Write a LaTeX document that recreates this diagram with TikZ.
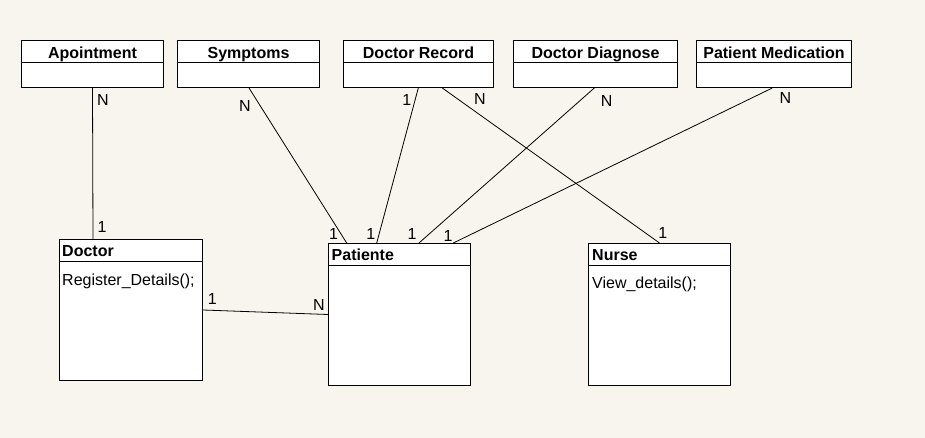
\documentclass[tikz,border=0pt]{standalone}
\usepackage{fontspec}
\setmainfont{Liberation Sans}
\usetikzlibrary{calc}
\definecolor{bgc}{RGB}{248,245,238}
\tikzset{
  cls/.style={draw=black, fill=white, line width=1pt, rectangle, inner sep=0pt, anchor=north west},
  ttl/.style={font=\fontsize{16pt}{19pt}\selectfont\bfseries, inner sep=0pt},
  bod/.style={font=\fontsize{16pt}{19pt}\selectfont, inner sep=0pt, anchor=base west},
  lbl/.style={font=\fontsize{16pt}{19pt}\selectfont, inner sep=0pt},
  con/.style={draw=black, line width=0.8pt},
  divl/.style={draw=black, line width=1pt}
}
\begin{document}
\begin{tikzpicture}[x=1pt,y=-1pt]
\fill[bgc] (0,0) rectangle (925,438);
\useasboundingbox (0,0) rectangle (925,438);

% top classes
\node[cls, minimum width=142pt, minimum height=47pt] (apt) at (21,40) {};
\node[cls, minimum width=142pt, minimum height=47pt] (sym) at (177,40) {};
\node[cls, minimum width=150pt, minimum height=47pt] (dr) at (343,40) {};
\node[cls, minimum width=164pt, minimum height=47pt] (dd) at (513,40) {};
\node[cls, minimum width=155pt, minimum height=47pt] (pm) at (696,40) {};
\foreach \n in {apt,sym,dr,dd,pm}{
  \draw[divl] ([yshift=-23pt]\n.north west) -- ([yshift=-23pt]\n.north east);
}
\node[ttl, anchor=base] (aptT) at ([yshift=-19pt]apt.north) {Apointment};
\node[ttl, anchor=base] (symT) at ([yshift=-19pt]sym.north) {Symptoms};
\node[ttl, anchor=base] (drT) at ([yshift=-19pt]dr.north) {Doctor Record};
\node[ttl, anchor=base] (ddT) at ([yshift=-19pt]dd.north) {Doctor Diagnose};
\node[ttl, anchor=base] (pmT) at ([yshift=-19pt]pm.north) {Patient Medication};

% bottom classes
\node[cls, minimum width=143pt, minimum height=141pt] (doc) at (59,239) {};
\node[cls, minimum width=142pt, minimum height=142pt] (pat) at (328,243) {};
\node[cls, minimum width=142pt, minimum height=142pt] (nur) at (588,243) {};
\foreach \n in {doc,pat,nur}{
  \draw[divl] ([yshift=-22pt]\n.north west) -- ([yshift=-22pt]\n.north east);
}
\node[ttl, anchor=base west] (docT) at ([xshift=3pt,yshift=-17.5pt]doc.north west) {Doctor};
\node[ttl, anchor=base west] (patT) at ([xshift=3.5pt,yshift=-17pt]pat.north west) {Patiente};
\node[ttl, anchor=base west] (nurT) at ([xshift=4pt,yshift=-17pt]nur.north west) {Nurse};
\node[bod] (docB) at ([xshift=3pt,yshift=-46pt]doc.north west) {Register\_Details();};
\node[bod] (nurB) at ([xshift=4pt,yshift=-45.5pt]nur.north west) {View\_details();};

% connectors
\draw[con] (apt.south) -- ([xshift=34pt]doc.north west);
\draw[con] ([xshift=72pt]sym.south west) -- ([xshift=18.7pt]pat.north west);
\draw[con] ([xshift=75.3pt]dr.south west) -- ([xshift=48.7pt]pat.north west);
\draw[con] ([xshift=99.3pt]dr.south west) -- (nur.north);
\draw[con] ([xshift=81.3pt]dd.south west) -- ([xshift=91pt]pat.north west);
\draw[con] ([xshift=76.3pt]pm.south west) -- ([xshift=125.3pt]pat.north west);
\draw[con] (doc.east) -- (pat.west);

% multiplicities
\node[lbl] (m1) at (103,100) {N};
\node[lbl] (m2) at (102,227) {1};
\node[lbl] (m3) at (245,106) {N};
\node[lbl] (m4) at (333.5,234) {1};
\node[lbl] (m5) at (406.7,100) {1};
\node[lbl] (m6) at (370.7,234) {1};
\node[lbl] (m7) at (480,99) {N};
\node[lbl] (m8) at (662.7,232.5) {1};
\node[lbl] (m9) at (606.7,101) {N};
\node[lbl] (m10) at (412,234) {1};
\node[lbl] (m11) at (785.5,98) {N};
\node[lbl] (m12) at (448,236) {1};
\node[lbl] (m13) at (212.3,298.5) {1};
\node[lbl] (m14) at (319,304.5) {N};
\end{tikzpicture}
\end{document}
